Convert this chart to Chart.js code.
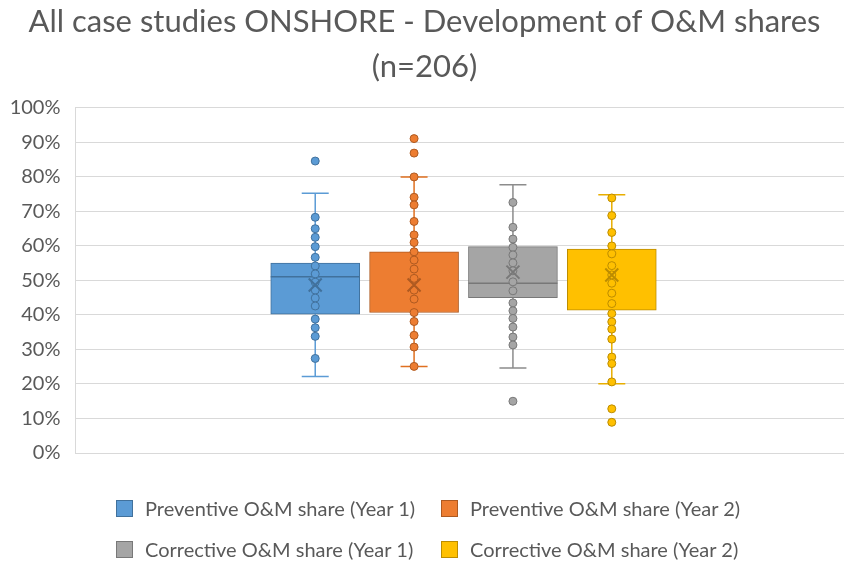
<!DOCTYPE html>
<html>
<head>
<meta charset="utf-8">
<script src="https://cdn.jsdelivr.net/npm/chart.js@4/dist/chart.umd.min.js"></script>
<style>
  html, body { margin: 0; padding: 0; background: #fff; }
  #wrap { position: relative; width: 849px; height: 565px; font-family: Lato, sans-serif; color: #595959; }
  #legend { position: absolute; left: 0; top: 0; }
  .item { position: absolute; display: flex; align-items: center; font-size: 20px; white-space: nowrap; height: 20px; }
  .swatch { width: 15px; height: 15px; border: 1px solid; margin-right: 12px; }
</style>
</head>
<body>
<div id="wrap">
  <canvas id="chart" width="849" height="565"></canvas>
  <div id="legend"></div>
</div>
<script>
const seriesNames = [
  "Preventive O&M share (Year 1)",
  "Preventive O&M share (Year 2)",
  "Corrective O&M share (Year 1)",
  "Corrective O&M share (Year 2)"
];
const positions = [1, 2, 3, 4];

const q1 = [0.402, 0.407, 0.450, 0.414];
const q3 = [0.550, 0.583, 0.598, 0.591];
const medians = [0.511, null, 0.492, null];
const means = [0.487, 0.487, 0.524, 0.516];
const whiskerLow = [0.222, 0.251, 0.246, 0.201];
const whiskerHigh = [0.753, 0.800, 0.777, 0.748];

const pointsPrevY1 = [0.846, 0.683, 0.650, 0.625, 0.598, 0.567, 0.542, 0.519, 0.495, 0.472, 0.449, 0.426, 0.388, 0.363, 0.338, 0.274];
const pointsPrevY2 = [0.911, 0.869, 0.800, 0.741, 0.719, 0.671, 0.632, 0.610, 0.583, 0.559, 0.533, 0.506, 0.472, 0.446, 0.407, 0.381, 0.341, 0.307, 0.251];
const pointsCorrY1 = [0.726, 0.654, 0.620, 0.596, 0.574, 0.551, 0.528, 0.496, 0.470, 0.435, 0.412, 0.390, 0.365, 0.336, 0.313, 0.150];
const pointsCorrY2 = [0.739, 0.688, 0.639, 0.600, 0.577, 0.543, 0.516, 0.492, 0.463, 0.433, 0.404, 0.380, 0.359, 0.330, 0.278, 0.259, 0.206, 0.128, 0.089];
const allPoints = [pointsPrevY1, pointsPrevY2, pointsCorrY1, pointsCorrY2];

const yTicks = [0, 0.1, 0.2, 0.3, 0.4, 0.5, 0.6, 0.7, 0.8, 0.9, 1];

const fillColors = ["#5B9BD5", "#ED7D31", "#A5A5A5", "#FFC000"];
const borderColors = ["#41719C", "#AE5A21", "#787878", "#BC8C00"];
const whiskerColors = ["#5B9BD5", "#E07020", "#8C8C8C", "#E8AE00"];

const boxDatasets = seriesNames.map((name, i) => ({
  type: "bar",
  label: name,
  data: [{ x: positions[i], y: [q1[i], q3[i]] }],
  backgroundColor: fillColors[i],
  borderColor: borderColors[i],
  borderWidth: 1,
  borderSkipped: false,
  barThickness: 89,
  grouped: false,
  order: 1
}));

const pointDatasets = allPoints.map((pts, i) => ({
  type: "scatter",
  label: seriesNames[i] + " points",
  data: pts.map(v => ({ x: positions[i], y: v })),
  pointRadius: 4,
  pointBackgroundColor: fillColors[i],
  pointBorderColor: borderColors[i],
  pointBorderWidth: 1,
  order: 0
}));

// whiskers, median lines and mean markers
const boxExtras = {
  id: "boxExtras",
  afterDatasetDraw(chart, args) {
    const i = args.index;
    if (i >= seriesNames.length) return;
    const bar = args.meta.data[0];
    const ys = chart.scales.y;
    const ctx = chart.ctx;
    const x = bar.x;
    const half = bar.width / 2;
    const cap = 13.5;
    ctx.save();
    ctx.strokeStyle = whiskerColors[i];
    ctx.lineWidth = 1.5;
    ctx.beginPath();
    ctx.moveTo(x, ys.getPixelForValue(q3[i]));
    ctx.lineTo(x, ys.getPixelForValue(whiskerHigh[i]));
    ctx.moveTo(x - cap, ys.getPixelForValue(whiskerHigh[i]));
    ctx.lineTo(x + cap, ys.getPixelForValue(whiskerHigh[i]));
    ctx.moveTo(x, ys.getPixelForValue(q1[i]));
    ctx.lineTo(x, ys.getPixelForValue(whiskerLow[i]));
    ctx.moveTo(x - cap, ys.getPixelForValue(whiskerLow[i]));
    ctx.lineTo(x + cap, ys.getPixelForValue(whiskerLow[i]));
    ctx.stroke();
    if (medians[i] !== null) {
      ctx.strokeStyle = borderColors[i];
      ctx.beginPath();
      ctx.moveTo(x - half, ys.getPixelForValue(medians[i]));
      ctx.lineTo(x + half, ys.getPixelForValue(medians[i]));
      ctx.stroke();
    }
    ctx.restore();
  },
  afterDatasetsDraw(chart) {
    const ys = chart.scales.y;
    const ctx = chart.ctx;
    ctx.save();
    ctx.lineWidth = 2;
    seriesNames.forEach((n, i) => {
      const x = chart.getDatasetMeta(i).data[0].x;
      const y = ys.getPixelForValue(means[i]);
      const s = 6.5;
      ctx.strokeStyle = borderColors[i];
      ctx.beginPath();
      ctx.moveTo(x - s, y - s); ctx.lineTo(x + s, y + s);
      ctx.moveTo(x + s, y - s); ctx.lineTo(x - s, y + s);
      ctx.stroke();
    });
    ctx.restore();
  }
};

const chart = new Chart(document.getElementById("chart"), {
  type: "bar",
  data: { datasets: [...boxDatasets, ...pointDatasets] },
  options: {
    responsive: false,
    animation: false,
    layout: { padding: { left: 0, right: 0, top: 0, bottom: 112 } },
    plugins: {
      legend: { display: false },
      tooltip: { enabled: false },
      title: {
        display: true,
        text: ["All case studies ONSHORE - Development of O&M shares", "(n=206)"],
        color: "#595959",
        font: { family: "Lato", size: 31, weight: "normal", lineHeight: 1.45 },
        padding: { top: 0, bottom: 18 }
      }
    },
    scales: {
      x: {
        type: "linear",
        display: false,
        offset: false,
        min: -1.425,
        max: 6.349
      },
      y: {
        min: 0,
        max: 1,
        afterBuildTicks(scale) {
          scale.ticks = yTicks.map(v => ({ value: v }));
        },
        afterFit(scale) { scale.width = 75.5; },
        ticks: {
          padding: 15,
          color: "#595959",
          font: { family: "Lato", size: 20 },
          callback: v => Math.round(v * 100) + "%"
        },
        grid: { color: "#D9D9D9", drawTicks: false },
        border: { display: true, color: "#D9D9D9" }
      }
    }
  },
  plugins: [boxExtras]
});

// legend in two fixed columns, built from the series arrays
const legendSpots = [[116, 498], [441, 498], [116, 539], [441, 539]];
const legendEl = document.getElementById("legend");
seriesNames.forEach((name, i) => {
  const item = document.createElement("div");
  item.className = "item";
  item.style.left = legendSpots[i][0] + "px";
  item.style.top = legendSpots[i][1] + "px";
  const sw = document.createElement("span");
  sw.className = "swatch";
  sw.style.background = fillColors[i];
  sw.style.borderColor = borderColors[i];
  const txt = document.createElement("span");
  txt.textContent = name;
  item.appendChild(sw);
  item.appendChild(txt);
  legendEl.appendChild(item);
});
</script>
</body>
</html>
